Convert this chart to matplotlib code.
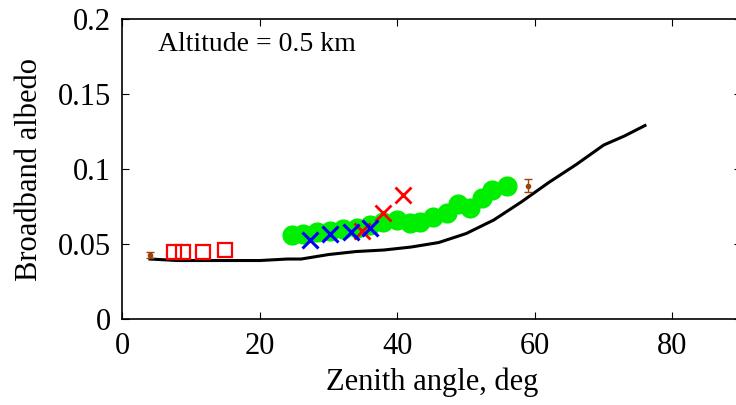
import matplotlib
matplotlib.use("Agg")
import matplotlib.pyplot as plt

plt.rcParams['font.family'] = ['Liberation Serif', 'DejaVu Serif']

# model curve
model_x = [4, 8, 12, 16, 20, 24, 26, 30, 34, 38, 42, 46, 50, 54, 58, 62, 66, 70, 73, 76]
model_y = [0.040, 0.039, 0.039, 0.039, 0.039, 0.040, 0.040, 0.043, 0.045, 0.046,
           0.048, 0.051, 0.057, 0.066, 0.078, 0.091, 0.103, 0.116, 0.122, 0.129]

# red open squares
sq_x = [7.5, 8.8, 11.7, 14.9]
sq_y = [0.045, 0.045, 0.045, 0.046]

# green circles
gr_x = [24.7, 26.3, 28.3, 30.2, 32.1, 34.1, 36.0, 37.9, 39.9, 41.8, 43.3, 45.2,
        47.2, 48.8, 50.5, 52.3, 53.7, 55.9]
gr_y = [0.056, 0.057, 0.058, 0.059, 0.060, 0.061, 0.063, 0.065, 0.066, 0.064,
        0.065, 0.068, 0.071, 0.077, 0.074, 0.081, 0.086, 0.089]

# red crosses
rx_x = [34.8, 37.9, 40.8]
rx_y = [0.059, 0.071, 0.083]

# blue crosses
bx_x = [27.3, 30.2, 33.3, 36.0]
bx_y = [0.053, 0.057, 0.058, 0.061]

# brown points with error bars
eb_x = [4.0, 59.0]
eb_y = [0.043, 0.089]
eb_err = [0.002, 0.0045]

fig = plt.figure(figsize=(7.36, 4.05), dpi=100)
ax = fig.add_axes([0.1664, 0.2123, 0.8407, 0.7407])

ax.plot(model_x, model_y, color='black', linewidth=2.2, zorder=2)
ax.plot(gr_x, gr_y, 'o', color='#00ee00', markersize=14.5, markeredgewidth=0, zorder=3)
ax.plot(sq_x, sq_y, 's', markerfacecolor='none', markeredgecolor='red',
        markersize=10.5, markeredgewidth=1.6, zorder=4)
ax.plot(rx_x, rx_y, 'x', color='red', markersize=12, markeredgewidth=2, zorder=4)
ax.plot(bx_x, bx_y, 'x', color='blue', markersize=12, markeredgewidth=2.2, zorder=5)
ax.errorbar(eb_x, eb_y, yerr=eb_err, fmt='o', color='#a0400a', markersize=3,
            capsize=3, elinewidth=1, zorder=5)

ax.set_xlim(0, 90)
ax.set_ylim(0, 0.2)
ax.set_xticks([0, 20, 40, 60, 80])
ax.set_xticklabels(['0', '20', '40', '60', '80'])
ax.set_yticks([0, 0.05, 0.1, 0.15, 0.2])
ax.set_yticklabels(['0', '0.05', '0.1', '0.15', '0.2'])
ax.tick_params(direction='in', length=5, labelsize=22, top=True, right=True)
ax.tick_params(axis='x', pad=9)
ax.tick_params(axis='y', pad=8)
for s in ax.spines.values():
    s.set_linewidth(1.2)

ax.set_xlabel('Zenith angle, deg', fontsize=22, labelpad=5)
ax.set_ylabel('Broadband albedo', fontsize=22, labelpad=10)
ax.text(5.2, 0.183, 'Altitude = 0.5 km', fontsize=20, va='center', ha='left')

fig.savefig('out.png', dpi=100)
